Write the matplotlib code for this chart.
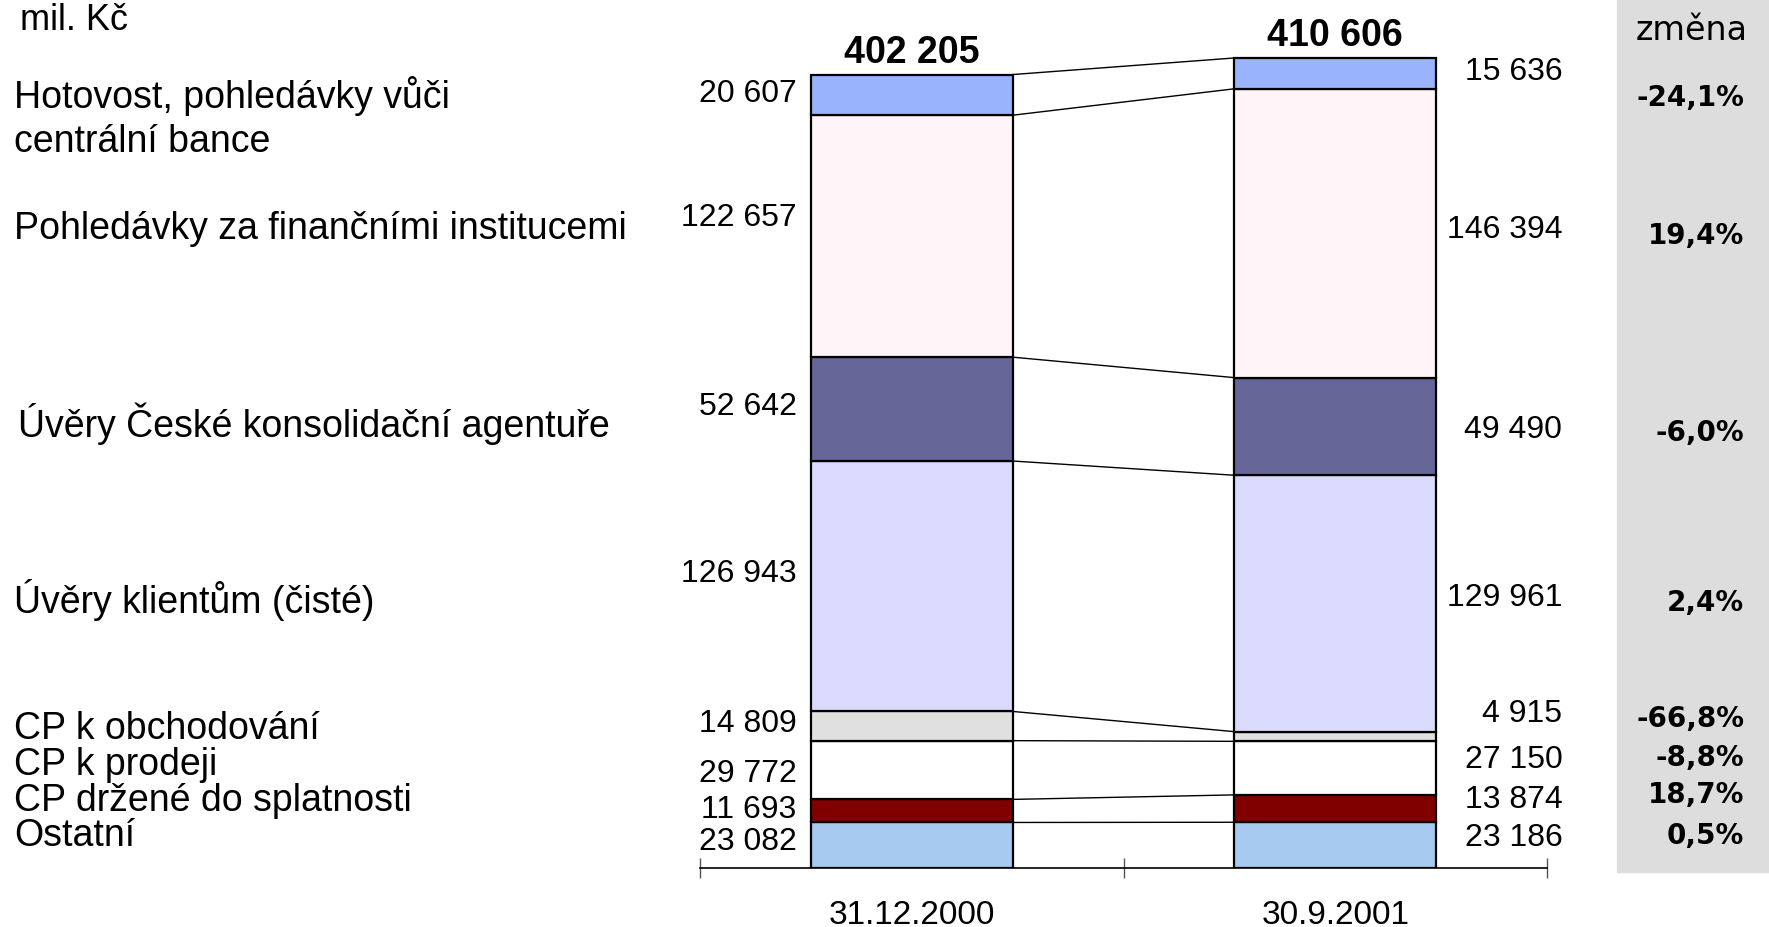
import matplotlib.pyplot as plt
from matplotlib.patches import Rectangle

# data (bottom -> top of the stack)
categories = ["Ostatní", "CP držené do splatnosti", "CP k prodeji", "CP k obchodování",
              "Úvěry klientům (čisté)", "Úvěry České konsolidační agentuře",
              "Pohledávky za finančními institucemi",
              "Hotovost, pohledávky vůči\ncentrální bance"]
val_2000 = [23082, 11693, 29772, 14809, 126943, 52642, 122657, 20607]
val_2001 = [23186, 13874, 27150, 4915, 129961, 49490, 146394, 15636]
dates = ["31.12.2000", "30.9.2001"]
colors = ["#A6CAF0", "#800000", "#FFFFFF", "#E0E0E0", "#DADAFD", "#666699", "#FFF5F8", "#99B4FD"]

# layout (pixel offsets / positions, full-size image, y from top)
left_dy = [4, 2, -3, 3, 13, 3, 19, 2]
right_dy = [8, 10, 9, 23, 6, -3, 4, 2]
row_y = [836, 801, 765, 729, 600, 424, 229, 118]
pct_y = [836, 795, 758, 719, 603, 433, 236, 98]
row_x = [14, 14, 14, 14, 14, 18, 14, 14]

W, H = 1769, 928
fig = plt.figure(figsize=(W / 100, H / 100), dpi=100)
plt.rcParams['font.family'] = ['Liberation Sans', 'DejaVu Sans']

def fx(x):
    return x / W

def fy(y):
    return 1 - y / H

# grey background for the change column
fig.patches.append(Rectangle((fx(1617), fy(873)), fx(W - 1617), 873 / H,
                             transform=fig.transFigure, color="#DDDDDD", zorder=0))

ax = fig.add_axes([fx(700), fy(869), fx(1547 - 700), 869 / H])
ax.set_xlim(-0.5, 1.5)
ax.set_ylim(0, 440500)
for s in ["top", "right", "left"]:
    ax.spines[s].set_visible(False)
ax.spines["bottom"].set_linewidth(1.2)
ax.set_yticks([])
ax.set_xticks([-0.5, 0.5, 1.5])
ax.set_xticklabels([])
ax.tick_params(axis="x", which="major", direction="inout", length=15, color="#555555", width=1)
ax.set_xticks([0, 1], minor=True)
ax.set_xticklabels(dates, minor=True, fontsize=24)
ax.tick_params(axis="x", which="minor", length=0, pad=22)
ax.patch.set_alpha(0)

bw = 0.477
xs = [0, 1]
bottoms = [[0], [0]]
for series, b in zip([val_2000, val_2001], bottoms):
    for v in series:
        b.append(b[-1] + v)

for i, series in enumerate([val_2000, val_2001]):
    ax.bar([xs[i]] * len(series), series, bw, bottom=bottoms[i][:-1], color=colors,
           edgecolor="black", linewidth=1.6, zorder=3)

# connector lines between the stacks
for k in range(1, len(bottoms[0])):
    ax.plot([xs[0] + bw / 2, xs[1] - bw / 2], [bottoms[0][k], bottoms[1][k]],
            color="black", lw=1, zorder=2)

# value labels
for k in range(len(val_2000)):
    c1 = bottoms[0][k] + val_2000[k] / 2
    c2 = bottoms[1][k] + val_2001[k] / 2
    ax.annotate(f"{val_2000[k]:,}".replace(",", " "), (xs[0] - bw / 2, c1),
                xytext=(-14, left_dy[k]), textcoords="offset pixels",
                ha="right", va="center", fontsize=23)
    ax.annotate(f"{val_2001[k]:,}".replace(",", " "), (xs[1] + bw / 2, c2),
                xytext=(126, right_dy[k]), textcoords="offset pixels",
                ha="right", va="center", fontsize=23)

# totals
for i, series in enumerate([val_2000, val_2001]):
    tot = sum(series)
    ax.annotate(f"{tot:,}".replace(",", " "), (xs[i], tot), xytext=(0, 5),
                textcoords="offset pixels", ha="center", va="bottom",
                fontsize=27, fontweight="bold")

# category labels and change column
for k, name in enumerate(categories):
    fig.text(fx(row_x[k]), fy(row_y[k]), name, ha="left", va="center", fontsize=27,
             linespacing=1.3)
    pct = (val_2001[k] / val_2000[k] - 1) * 100
    fig.text(fx(1744), fy(pct_y[k]), f"{pct:.1f}%".replace(".", ","), ha="right",
             va="center", fontsize=20, fontweight="bold", family="DejaVu Sans")

fig.text(fx(20), fy(21), "mil. Kč", ha="left", va="center", fontsize=26)
fig.text(fx(1692), fy(30), "změna", ha="center", va="center", fontsize=24,
         family="DejaVu Sans")

fig.savefig("out.png", dpi=100)
